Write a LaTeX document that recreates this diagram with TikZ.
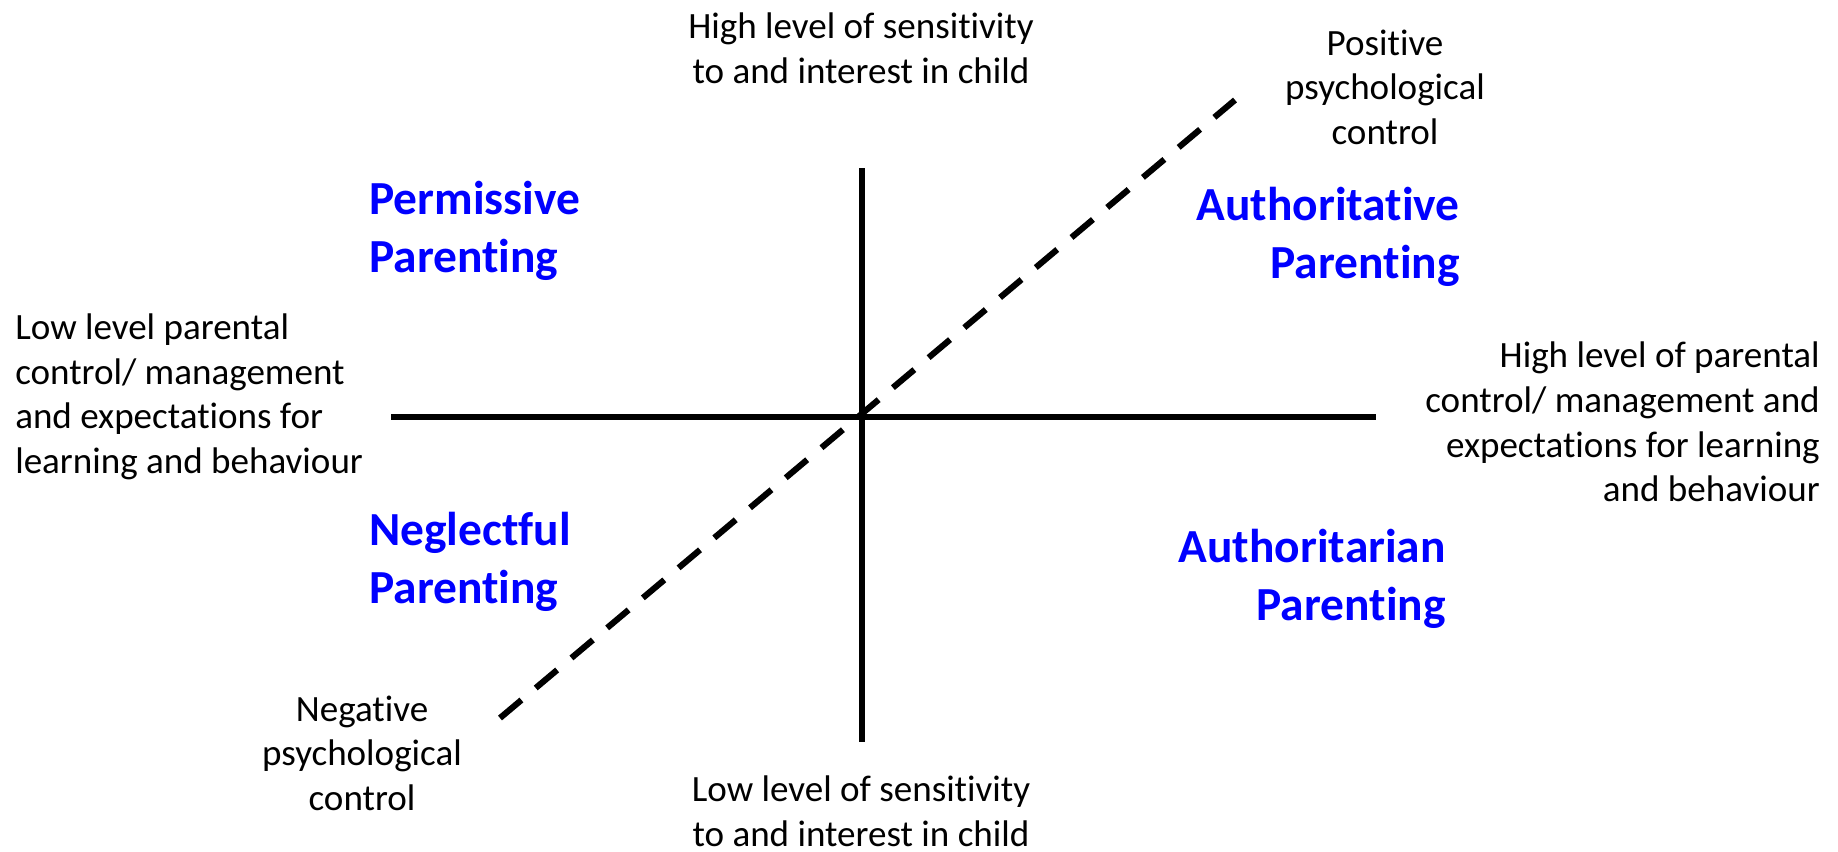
\documentclass[tikz,border=0pt]{standalone}
\usepackage{fontspec}
\setmainfont[Ligatures=NoCommon]{Carlito}
\begin{document}
\begin{tikzpicture}[x=0.75pt, y=-0.75pt,
        axis/.style={line width=5pt},
        txt/.style={inner sep=0pt, align=center, font=\fontsize{27.8}{33.4}\selectfont},
        kind/.style={inner sep=0pt, text=blue, font=\fontsize{35.6}{43.1}\selectfont\bfseries}]
        \useasboundingbox (0, 0) rectangle (1838, 851);
        % axes
        \coordinate (top) at (862, 168);
        \coordinate (bottom) at (862, 742);
        \coordinate (left) at (391, 417);
        \coordinate (right) at (1376, 417);
        \coordinate (neg) at (500, 718);
        \coordinate (pos) at (1235, 100);
        \draw[axis] (top) -- (bottom);
        \draw[axis] (left) -- (right);
        \draw[line width=4.6pt, dash pattern=on 21pt off 14pt] (neg) -- (pos);
        % axis texts
        \node[txt] (highsens) at (861, 48) {High level of sensitivity\\to and interest in child};
        \node[txt] (lowsens) at (861, 811) {Low level of sensitivity\\to and interest in child};
        \node[txt, anchor=west, align=left] (lowctrl) at (15, 397) {Low level parental\\control/ management\\and expectations for\\learning and behaviour};
        \node[txt, anchor=east, align=right] (highctrl) at (1820, 422) {High level of parental\\control/ management and\\expectations for learning\\and behaviour};
        \node[txt] (posctrl) at (1385, 87) {Positive\\psychological\\control};
        \node[txt] (negctrl) at (362, 753) {Negative\\psychological\\control};
        % styles
        \node[kind, anchor=west, align=left] (permissive) at (369, 231) {Permissive\\Parenting};
        \node[kind, anchor=east, align=right] (authoritative) at (1460, 237) {Authoritative\\Parenting};
        \node[kind, anchor=west, align=left] (neglectful) at (369, 562) {Neglectful\\Parenting};
        \node[kind, anchor=east, align=right] (authoritarian) at (1446, 579) {Authoritarian\\Parenting};
    \end{tikzpicture}
\end{document}
